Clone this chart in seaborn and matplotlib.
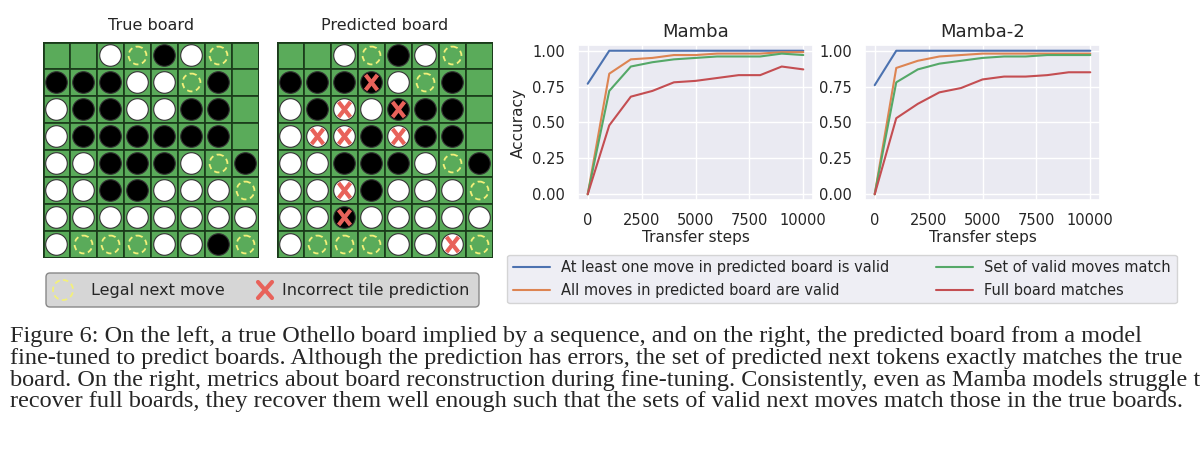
import numpy as np
import pandas as pd
import matplotlib
matplotlib.use("Agg")
import matplotlib.pyplot as plt
import seaborn as sns
from matplotlib.patches import Rectangle, Circle, FancyBboxPatch
from matplotlib.lines import Line2D

steps = [0, 1000, 2000, 3000, 4000, 5000, 6000, 7000, 8000, 9000, 10000]
series_names = ["At least one move in predicted board is valid",
                "All moves in predicted board are valid",
                "Set of valid moves match",
                "Full board matches"]
mamba_one = [0.77, 1.0, 1.0, 1.0, 1.0, 1.0, 1.0, 1.0, 1.0, 1.0, 1.0]
mamba_all = [0.0, 0.84, 0.94, 0.95, 0.97, 0.97, 0.98, 0.98, 0.98, 0.99, 0.99]
mamba_set = [0.0, 0.72, 0.89, 0.92, 0.94, 0.95, 0.96, 0.96, 0.96, 0.98, 0.97]
mamba_full = [0.0, 0.48, 0.68, 0.72, 0.78, 0.79, 0.81, 0.83, 0.83, 0.89, 0.87]
mamba2_one = [0.76, 1.0, 1.0, 1.0, 1.0, 1.0, 1.0, 1.0, 1.0, 1.0, 1.0]
mamba2_all = [0.0, 0.88, 0.93, 0.96, 0.97, 0.98, 0.98, 0.98, 0.98, 0.98, 0.98]
mamba2_set = [0.0, 0.78, 0.87, 0.91, 0.93, 0.95, 0.96, 0.96, 0.97, 0.97, 0.97]
mamba2_full = [0.0, 0.53, 0.63, 0.71, 0.74, 0.80, 0.82, 0.82, 0.83, 0.85, 0.85]

# W white, B black, L legal move, . empty; lowercase w/b = incorrect prediction
true_board = ["..WLBWL.",
              "BBBWWLB.",
              "WBBWWBB.",
              "WBBBBBB.",
              "WWBBBWLB",
              "WWBBWWWL",
              "WWWWWWWW",
              "WLLLWWBL"]
pred_board = ["..WLBWL.",
              "BBBbWLB.",
              "WBwWbBB.",
              "WwwBwBB.",
              "WWBBBWLB",
              "WWwBWWWL",
              "WWbWWWWW",
              "WLLLWWwL"]

caption = ("Figure 6: On the left, a true Othello board implied by a sequence, and on the right, the predicted board from a model\n"
           "fine-tuned to predict boards. Although the prediction has errors, the set of predicted next tokens exactly matches the true\n"
           "board. On the right, metrics about board reconstruction during fine-tuning. Consistently, even as Mamba models struggle to\n"
           "recover full boards, they recover them well enough such that the sets of valid next moves match those in the true boards.")

sns.set_theme(style="darkgrid")
plt.rcParams['font.family'] = ['DejaVu Sans']
W, H = 1200, 470
fig = plt.figure(figsize=(12, 4.7), dpi=100)

def fx(x): return x / W
def fy(y): return 1 - y / H

GREEN = "#5aab5a"
RED = "#e8625a"

def draw_board(left, top, size, board, title):
    ax = fig.add_axes([fx(left), fy(top + size), size / W, size / H])
    ax.set_xlim(0, 8); ax.set_ylim(8, 0)
    ax.axis("off")
    for r, row in enumerate(board):
        for c, ch in enumerate(row):
            ax.add_patch(Rectangle((c, r), 1, 1, facecolor=GREEN, edgecolor="#1a3a1a", lw=1.2))
            cx, cy = c + 0.5, r + 0.5
            if ch in "WwBb":
                fc = "white" if ch in "Ww" else "black"
                ax.add_patch(Circle((cx, cy), 0.4, facecolor=fc, edgecolor="#333333", lw=0.8))
            elif ch == "L":
                ax.add_patch(Circle((cx, cy), 0.33, facecolor="none", edgecolor="#f3f07a", lw=1.3, ls=(0, (3, 2))))
            if ch in "wb":
                ax.plot([cx - 0.22, cx + 0.22], [cy - 0.28, cy + 0.28], color=RED, lw=3, solid_capstyle="butt")
                ax.plot([cx - 0.22, cx + 0.22], [cy + 0.28, cy - 0.28], color=RED, lw=3, solid_capstyle="butt")
    ax.add_patch(Rectangle((0, 0), 8, 8, facecolor="none", edgecolor="#1a3a1a", lw=2))
    fig.text(fx(left + size / 2), fy(top - 16), title, ha="center", va="center", fontsize=11.5)

draw_board(43, 42, 216, true_board, "True board")
draw_board(277, 42, 216, pred_board, "Predicted board")

# board legend
lax = fig.add_axes([fx(45), fy(308), 435 / W, 36 / H])
lax.axis("off")
lax.set_xlim(0, 435); lax.set_ylim(36, 0)
lax.add_patch(FancyBboxPatch((1, 1), 433, 34, boxstyle="round,pad=0,rounding_size=4",
                             facecolor="#d6d6d6", edgecolor="#888888", lw=1))
lax.add_patch(Circle((18, 18), 10, facecolor="none", edgecolor="#f3f07a", lw=1.3, ls=(0, (3, 2))))
lax.text(46, 18, "Legal next move", va="center", fontsize=11.5)
lax.plot([213, 227], [10, 26], color=RED, lw=3)
lax.plot([213, 227], [26, 10], color=RED, lw=3)
lax.text(237, 18, "Incorrect tile prediction", va="center", fontsize=11.5)

# line plots
pal = sns.color_palette("deep")
def make_df(vals):
    rows = []
    for name, v in zip(series_names, vals):
        for s, a in zip(steps, v):
            rows.append({"step": s, "acc": a, "metric": name})
    return pd.DataFrame(rows)

specs = [(578, "Mamba", [mamba_one, mamba_all, mamba_set, mamba_full], True),
         (865, "Mamba-2", [mamba2_one, mamba2_all, mamba2_set, mamba2_full], False)]
for left, title, vals, ylab in specs:
    ax = fig.add_axes([fx(left), fy(200), 235 / W, 155 / H])
    sns.lineplot(data=make_df(vals), x="step", y="acc", hue="metric",
                 palette=pal[:4], ax=ax, legend=False, lw=1.5)
    ax.set_ylim(-0.04, 1.04)
    ax.set_xlim(-450, 10450)
    ax.set_yticks([0, 0.25, 0.5, 0.75, 1.0])
    ax.set_yticklabels(["0.00", "0.25", "0.50", "0.75", "1.00"])
    ax.set_xticks([0, 2500, 5000, 7500, 10000])
    ax.tick_params(labelsize=10.5)
    ax.set_title(title, fontsize=13)
    ax.set_xlabel("Transfer steps", fontsize=11, labelpad=1)
    ax.set_ylabel("Accuracy" if ylab else "", fontsize=11)

handles = [Line2D([], [], color=pal[i], lw=1.5) for i in range(4)]
fig.legend(handles, series_names, ncol=2, loc="center",
           bbox_to_anchor=(fx(842), fy(279)), fontsize=10.5,
           facecolor="#eaeaf2", edgecolor="#cccccc", frameon=True,
           columnspacing=3.2, handlelength=2.5)

fig.text(fx(10), fy(326), caption, ha="left", va="top", fontsize=17.5,
         family="Liberation Serif", linespacing=1.05)

fig.savefig("out.png", dpi=100)
